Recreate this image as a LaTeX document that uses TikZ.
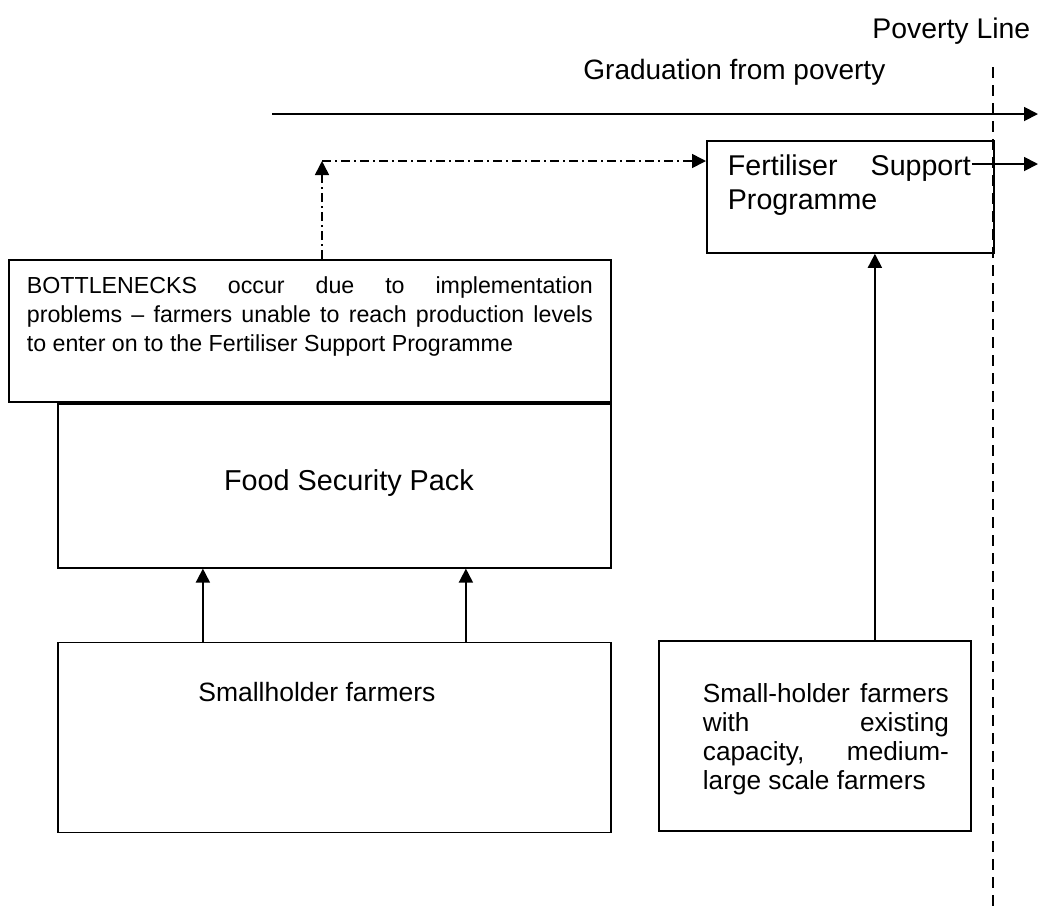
\documentclass[tikz,border=0pt]{standalone}
\usepackage{fontspec}
\setmainfont{Liberation Sans}
\usetikzlibrary{positioning, arrows.meta, calc}

\begin{document}
\begin{tikzpicture}[x=0.5pt, y=-0.5pt, >={Triangle[length=7pt,width=7pt]},
  box/.style={draw, line width=0.9pt, inner sep=0pt, anchor=north west},
  conn/.style={->, line width=0.9pt},
  chain/.style={->, line width=0.8pt, dash pattern=on 4.5pt off 2pt on 1pt off 2pt},
  povline/.style={line width=0.8pt, dash pattern=on 5.5pt off 3.5pt}]

  \useasboundingbox (0,0) rectangle (1039,907);

  % Titles
  \node[anchor=base west, inner sep=0pt, font=\fontsize{14.2}{17}\selectfont] (povtitle) at (872,38) {Poverty Line};
  \node[anchor=base west, inner sep=0pt, font=\fontsize{14}{17}\selectfont] (gradtitle) at (583,79) {Graduation from poverty};

  % Blocks
  \node[box] (bott) at (8,259) {\parbox[c][71pt][t]{301pt}{\vspace*{8.5pt}\leftskip=9pt\rightskip=9pt\fontsize{11.6}{14.5}\selectfont
    BOTTLENECKS\hfill occur\hfill due\hfill to\hfill implementation\linebreak
    problems – farmers unable to reach production levels\linebreak
    to enter on to the Fertiliser Support Programme}};
  \node[box, anchor=north east] (food) at (bott.south east) {\parbox[c][82pt][t]{276.5pt}{\vspace*{33pt}\fontsize{14.4}{17}\selectfont\centering\hspace*{14.5pt}Food Security Pack}};
  \node[box, below=36.5pt of food] (small) {\parbox[c][95pt][t]{276.5pt}{\vspace*{20pt}\fontsize{13.25}{16}\selectfont\centering\hspace*{-17.5pt}Smallholder farmers}};
  \node[box] (fsp) at (706,140) {\parbox[c][56pt][t]{143.5pt}{\vspace*{7pt}\leftskip=10.5pt\rightskip=11.5pt\fontsize{14.3}{17}\selectfont
    Fertiliser\hfill Support\\Programme}};
  \node[box] (exist) at (658,640) {\parbox[c][95pt][t]{156pt}{\vspace*{21.5pt}\leftskip=22pt\rightskip=11pt\fontsize{13.1}{14.5}\selectfont
    Small-holder\hfill farmers\\with\hfill existing\\capacity,\hfill medium-\\large scale farmers}};

  % Graduation arrow and poverty line
  \coordinate (gradstart) at (272,114);
  \coordinate (gradend) at (1038,114);
  \draw[conn] (gradstart) -- (gradend);
  \coordinate (povtop) at (993,67);
  \coordinate (povbot) at (993,907);
  \draw[povline] (povtop) -- (povbot);

  % Connectors
  \draw[conn] ([xshift=-65.75pt]small.north) -- ([xshift=-65.75pt]food.south);
  \draw[conn] ([xshift=65.75pt]small.north) -- ([xshift=65.75pt]food.south);
  \draw[conn] ([xshift=30pt]exist.north) -- ([xshift=30pt]exist.north |- fsp.south);
  \coordinate (bend) at (322,161);
  \draw[chain] (bott.north -| bend) -- (bend);
  \draw[chain] (bend) -- (fsp.west |- bend);
  \coordinate (fspout) at ([shift={(-23,24)}]fsp.north east);
  \draw[conn] (fspout) -- (fspout -| gradend);

\end{tikzpicture}
\end{document}
